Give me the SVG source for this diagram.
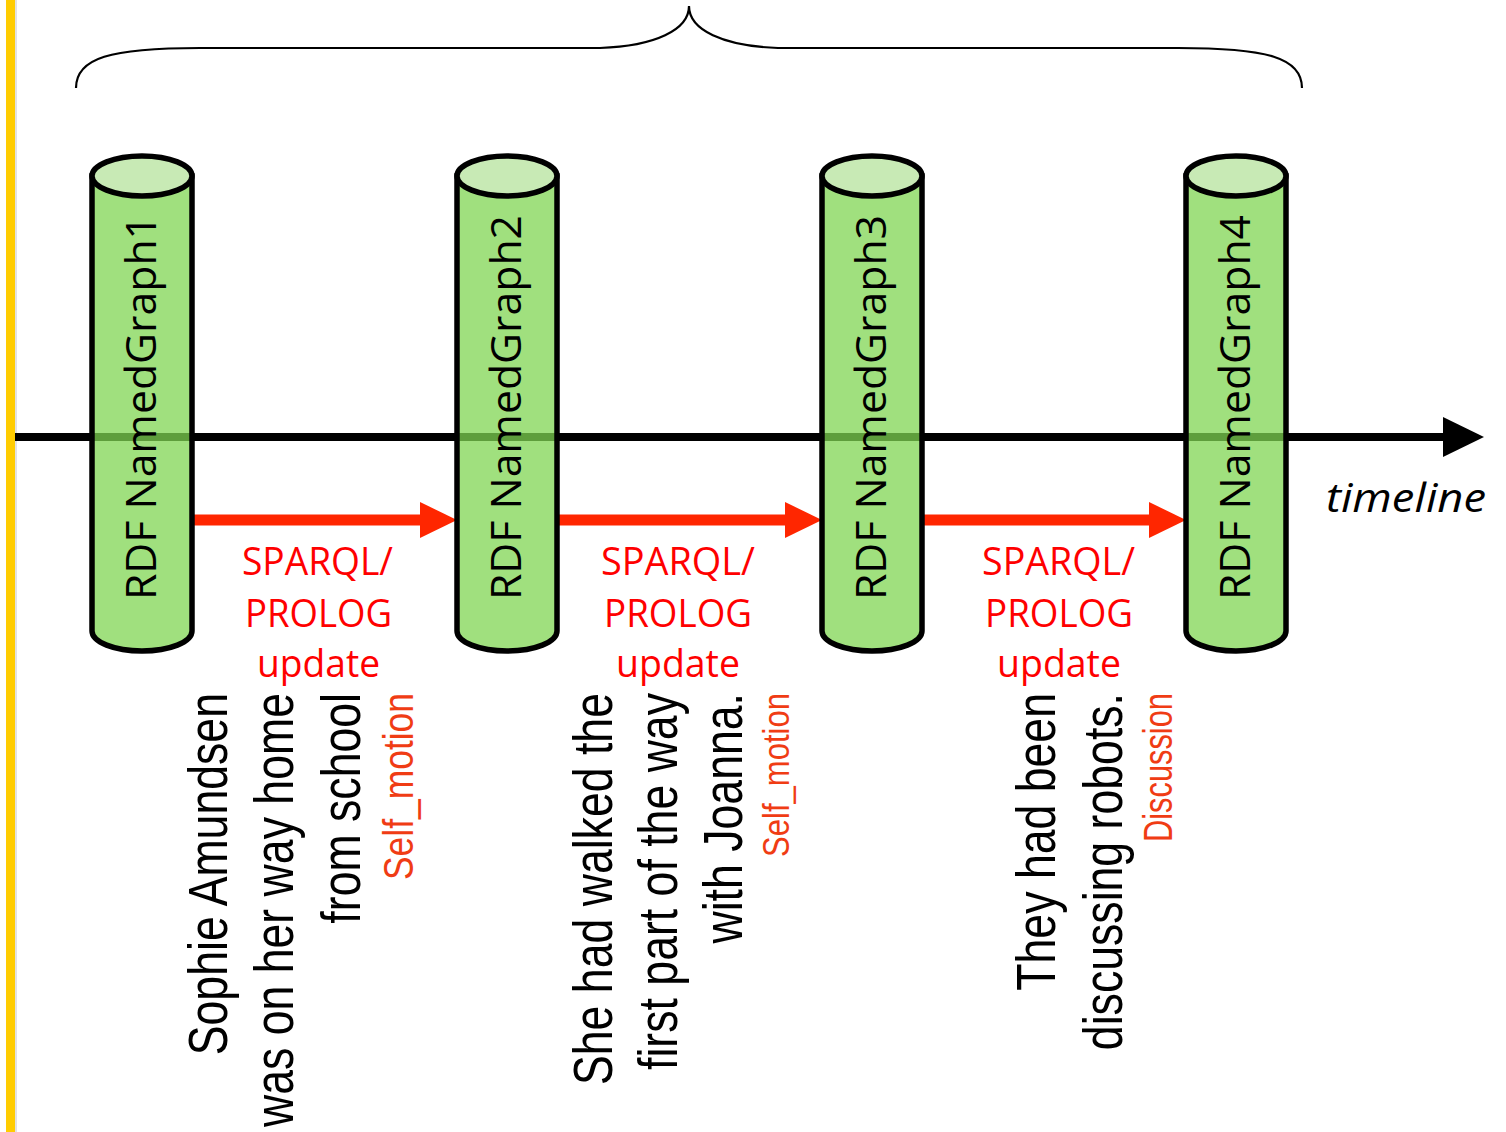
<svg xmlns="http://www.w3.org/2000/svg" width="1506" height="1132" viewBox="0 0 1506 1132">
<style>
.cylbody{fill:#7fd551;fill-opacity:0.74;stroke:#000;stroke-width:5.5}
.cyltop{fill:#c8eab5;stroke:#000;stroke-width:5.5}
.cyllabel{font-family:"Open Sans","Liberation Sans",sans-serif;font-size:42px;fill:#000}
.op{font-family:"Open Sans","Liberation Sans",sans-serif;font-size:38px;fill:#ff0000}
.story{font-family:"Liberation Sans",Arial,sans-serif;font-size:56px;fill:#000}
.frame{font-family:"Liberation Sans",Arial,sans-serif;fill:#f03c14}
.upd{fill:#ff2600}
</style>
<rect width="1506" height="1132" fill="#fff"/>
<rect x="15" y="0" width="2" height="1132" fill="#e2e2e2"/>
<rect x="6" y="0" width="9" height="1132" fill="#ffcc00"/>
<path d="M76,88 C76,58 110,48 200,48 L600,48 C655,46 689,30 689,6 C689,30 723,46 778,48 L1178,48 C1268,48 1302,58 1302,88" fill="none" stroke="#000" stroke-width="2.2"/>
<g id="connectors">
<g id="timeline">
<line x1="15" y1="437" x2="1446" y2="437" stroke="#000" stroke-width="8"/>
<polygon points="1443,417 1484,437 1443,457" fill="#000"/>
<text x="1406" y="512" text-anchor="middle" font-family="'Open Sans','Liberation Sans',sans-serif" font-style="italic" font-size="40" textLength="160" lengthAdjust="spacingAndGlyphs">timeline</text>
</g>
<g id="update1">
<rect x="192" y="514.5" width="230" height="11" class="upd"/>
<polygon points="420,502 457,520 420,538" class="upd"/>
</g>
<g id="update2">
<rect x="557" y="514.5" width="230" height="11" class="upd"/>
<polygon points="785,502 822,520 785,538" class="upd"/>
</g>
<g id="update3">
<rect x="922" y="514.5" width="229" height="11" class="upd"/>
<polygon points="1149,502 1186,520 1149,538" class="upd"/>
</g>
</g>
<g id="graph1">
<path class="cylbody" d="M92,176 L92,631 A50,20 0 0 0 192,631 L192,176 Z"/>
<ellipse class="cyltop" cx="142" cy="176" rx="50" ry="20"/>
<text class="cyllabel" transform="translate(156,407.5) rotate(-90)" text-anchor="middle" textLength="385" lengthAdjust="spacingAndGlyphs">RDF NamedGraph1</text>
</g>
<g id="graph2">
<path class="cylbody" d="M457,176 L457,631 A50,20 0 0 0 557,631 L557,176 Z"/>
<ellipse class="cyltop" cx="507" cy="176" rx="50" ry="20"/>
<text class="cyllabel" transform="translate(521,407.5) rotate(-90)" text-anchor="middle" textLength="385" lengthAdjust="spacingAndGlyphs">RDF NamedGraph2</text>
</g>
<g id="graph3">
<path class="cylbody" d="M822,176 L822,631 A50,20 0 0 0 922,631 L922,176 Z"/>
<ellipse class="cyltop" cx="872" cy="176" rx="50" ry="20"/>
<text class="cyllabel" transform="translate(886,407.5) rotate(-90)" text-anchor="middle" textLength="385" lengthAdjust="spacingAndGlyphs">RDF NamedGraph3</text>
</g>
<g id="graph4">
<path class="cylbody" d="M1186,176 L1186,631 A50,20 0 0 0 1286,631 L1286,176 Z"/>
<ellipse class="cyltop" cx="1236" cy="176" rx="50" ry="20"/>
<text class="cyllabel" transform="translate(1250,407.5) rotate(-90)" text-anchor="middle" textLength="385" lengthAdjust="spacingAndGlyphs">RDF NamedGraph4</text>
</g>
<g id="op1" class="op" text-anchor="middle">
<text x="317.5" y="575" textLength="151" lengthAdjust="spacingAndGlyphs">SPARQL/</text>
<text x="318.5" y="627" textLength="147" lengthAdjust="spacingAndGlyphs">PROLOG</text>
<text x="318.5" y="677" textLength="123" lengthAdjust="spacingAndGlyphs">update</text>
</g>
<g id="op2" class="op" text-anchor="middle">
<text x="678" y="575" textLength="154" lengthAdjust="spacingAndGlyphs">SPARQL/</text>
<text x="678" y="627" textLength="148" lengthAdjust="spacingAndGlyphs">PROLOG</text>
<text x="678" y="677" textLength="124" lengthAdjust="spacingAndGlyphs">update</text>
</g>
<g id="op3" class="op" text-anchor="middle">
<text x="1058.5" y="575" textLength="153" lengthAdjust="spacingAndGlyphs">SPARQL/</text>
<text x="1059" y="627" textLength="148" lengthAdjust="spacingAndGlyphs">PROLOG</text>
<text x="1059" y="677" textLength="124" lengthAdjust="spacingAndGlyphs">update</text>
</g>
<g id="sentence1" text-anchor="end">
<text class="story" transform="translate(227,693) rotate(-90) scale(0.797,1)">Sophie Amundsen</text>
<text class="story" transform="translate(293,693) rotate(-90) scale(0.797,1)">was on her way home</text>
<text class="story" transform="translate(360,693) rotate(-90) scale(0.797,1)">from school</text>
<text class="frame" font-size="42" transform="translate(413,693) rotate(-90)" textLength="187" lengthAdjust="spacingAndGlyphs">Self_motion</text>
</g>
<g id="sentence2" text-anchor="end">
<text class="story" transform="translate(612,693) rotate(-90) scale(0.797,1)">She had walked the</text>
<text class="story" transform="translate(677,693) rotate(-90) scale(0.797,1)">first part of the way</text>
<text class="story" transform="translate(742,693) rotate(-90) scale(0.797,1)">with Joanna.</text>
<text class="frame" font-size="36" transform="translate(789,693) rotate(-90)" textLength="164" lengthAdjust="spacingAndGlyphs">Self_motion</text>
</g>
<g id="sentence3" text-anchor="end">
<text class="story" transform="translate(1055,693) rotate(-90) scale(0.797,1)">They had been</text>
<text class="story" transform="translate(1122,693) rotate(-90) scale(0.797,1)">discussing robots.</text>
<text class="frame" font-size="40" transform="translate(1172,693) rotate(-90)" textLength="149" lengthAdjust="spacingAndGlyphs">Discussion</text>
</g>
</svg>
